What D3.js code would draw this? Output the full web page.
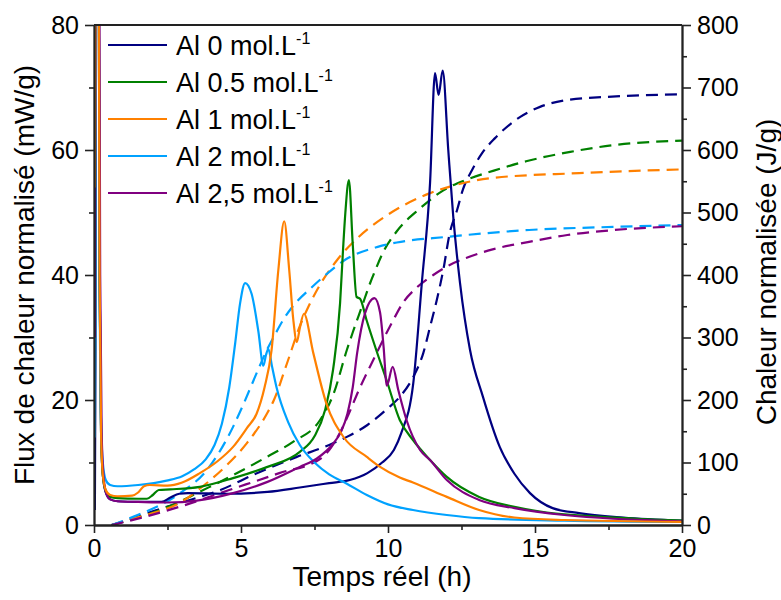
<!DOCTYPE html>
<html>
<head>
<meta charset="utf-8">
<script src="https://cdn.jsdelivr.net/npm/d3@7"></script>
<style>
  html, body { margin: 0; padding: 0; background: #fff; }
  svg { display: block; font-family: "Liberation Sans", Arial, sans-serif; }
</style>
</head>
<body>
<svg id="chart" width="781" height="600"></svg>
<script>
// ---------- data ----------
const seriesNames = ["Al 0 mol.L", "Al 0.5 mol.L", "Al 1 mol.L", "Al 2 mol.L", "Al 2,5 mol.L"];
const seriesColors = ["#000080", "#008000", "#FF8000", "#00A2FF", "#800080"];

const xTicks = [0, 5, 10, 15, 20];
const yLeftTicks = [0, 20, 40, 60, 80];
const yRightTicks = [0, 100, 200, 300, 400, 500, 600, 700, 800];

// heat flow (mW/g) vs time (h)
const fluxAl0 = [[0.03,2.4],[0.05,28],[0.07,120],[0.14,120],[0.19,40],[0.24,15],[0.3,8],[0.4,5.2],[0.55,4.1],[0.8,3.8],[1.5,3.7],[2.3,3.7],[2.6,4.4],[2.9,5.0],[3.2,5.1],[4.5,5.0],[5.9,5.3],[7,6.0],[8,6.7],[8.7,7.2],[9.3,8.3],[9.8,10],[10.2,12],[10.45,14.7],[10.86,22.7],[11.15,38.7],[11.43,54.7],[11.6,72.3],[11.72,68.8],[11.86,72.7],[12.05,60],[12.22,49.3],[12.45,38.7],[12.79,28],[13.23,20.5],[13.8,12.5],[14.3,8.2],[14.83,5.1],[15.6,2.7],[16.5,1.9],[18,1.2],[20,0.7]];
const fluxAl05 = [[0.03,22],[0.05,54],[0.07,120],[0.14,120],[0.19,40],[0.24,15],[0.3,8],[0.4,5.4],[0.55,4.5],[0.8,4.3],[1.5,4.2],[1.8,4.2],[2.0,4.8],[2.2,5.6],[2.6,5.7],[3.6,6.1],[4.73,7.5],[5.9,9.3],[7.0,11.7],[7.5,14.2],[7.86,18.4],[8.13,24.8],[8.37,35.5],[8.47,44],[8.55,50],[8.67,55.2],[8.8,45],[8.93,36.5],[9.05,36.2],[9.27,32.8],[9.6,28],[9.95,23.2],[10.4,16.8],[10.85,13.6],[11.43,10.4],[12,7.7],[13.1,4.5],[14.3,2.9],[15.4,2.0],[17,1.4],[20,0.7]];
const fluxAl1 = [[0.03,54],[0.05,90],[0.07,120],[0.14,120],[0.19,40],[0.24,15],[0.3,8],[0.4,5.6],[0.55,4.8],[0.8,4.6],[1.3,4.7],[1.5,5.2],[1.7,6.2],[1.9,6.4],[2.5,6.3],[3.0,6.8],[3.6,8.3],[4.2,10.2],[4.73,12.5],[5.2,15.5],[5.53,17.8],[5.8,22],[6.04,28],[6.27,40.8],[6.47,48.6],[6.64,40.8],[6.78,32.8],[6.9,29.3],[7.0,31.5],[7.14,33.8],[7.46,27.5],[7.9,19.5],[8.5,14],[9.28,10.9],[9.73,9.3],[10.4,7.6],[10.85,6.8],[12,4.5],[13.1,2.4],[14.3,1.2],[16,0.8],[20,0.5]];
const fluxAl2 = [[0.03,14],[0.05,40],[0.07,120],[0.14,120],[0.19,40],[0.24,16],[0.3,10],[0.4,7.2],[0.55,6.4],[0.8,6.2],[1.5,6.4],[2.47,7.1],[3.0,7.8],[3.4,8.9],[3.8,10.5],[4.1,12.8],[4.35,16.2],[4.6,22],[4.8,29],[4.97,35.5],[5.14,38.7],[5.36,37],[5.59,31],[5.76,25.5],[5.85,27.2],[5.93,28.2],[6.05,25.5],[6.21,22],[6.6,16.5],[7.0,12.8],[7.5,10.0],[8.0,8.1],[8.6,6.6],[9.28,4.8],[10,3.3],[10.85,2.4],[12,1.6],[13.1,1.1],[16,0.7],[20,0.5]];
const fluxAl25 = [[0.03,30],[0.05,80],[0.07,120],[0.16,120],[0.21,40],[0.26,15],[0.32,8],[0.42,5],[0.55,4.1],[0.8,3.8],[1.5,3.7],[2.5,3.6],[3.5,3.9],[4.73,5.1],[5.9,6.9],[7.0,9.3],[7.57,10.6],[8.13,13],[8.4,14.9],[8.62,17.8],[8.8,22],[8.95,27.5],[9.22,33.9],[9.54,36.3],[9.73,34],[9.85,28.5],[9.96,22.3],[10.16,25.3],[10.35,21.6],[10.63,16.8],[11.09,12],[11.43,10.4],[12,7.2],[13.1,4.0],[14.3,2.7],[16,1.6],[20,0.6]];

// cumulative heat (J/g) vs time (h)
const heatAl0 = [[0.6,0],[1.3,10],[2,22],[2.9,35],[4.3,56],[5.5,82],[6.9,109],[8,128],[8.6,141],[9.3,160],[10,187],[10.4,205],[10.86,237],[11.2,275],[11.43,317],[11.66,360],[11.88,408],[12.1,467],[12.35,504],[12.55,537],[12.86,568],[13.2,595],[13.64,619],[14.5,653],[15.17,669],[16.1,680],[17.45,685],[20,689]];
const heatAl05 = [[0.6,0],[1.3,9],[2.24,24],[2.9,37],[3.5,51],[4.62,77],[5.88,109],[6.77,133],[7.69,168],[8.15,210],[8.6,280],[8.8,308],[9.1,348],[9.4,388],[9.52,402],[9.83,436],[10.3,470],[11.1,507],[11.87,535],[12.7,553],[13.6,567],[14.7,582],[16.2,597],[17.7,608],[20,615]];
const heatAl1 = [[0.6,0],[1.3,10],[2,19],[2.9,35],[3.7,62],[4.5,95],[5.2,131],[5.88,178],[6.12,200],[6.56,258],[7.0,318],[7.3,350],[7.72,387],[8.27,424],[8.98,460],[9.95,495],[11.43,531],[12.3,544],[13.5,555],[16.5,563],[20,569]];
const heatAl2 = [[0.6,0],[1.33,13],[2.9,50],[3.84,88],[4.73,157],[5.07,192],[5.55,245],[5.88,280],[6.16,305],[6.5,333],[6.73,348],[7.4,380],[7.9,401],[8.53,424],[9.65,445],[10.3,452],[12,461],[14.8,472],[17.7,477],[20,480]];
const heatAl25 = [[0.6,0],[1.56,11],[2.9,29],[4.6,56],[6.3,83],[7.7,106],[8.0,120],[8.37,148],[8.64,175],[9.0,215],[9.56,270],[9.84,297],[10.18,328],[10.5,355],[10.98,380],[11.54,400],[12.1,416],[12.7,428],[13.4,439],[14.8,453],[16.1,464],[17.7,472],[20,478]];

const fluxSeries = [fluxAl0, fluxAl05, fluxAl1, fluxAl2, fluxAl25];
const heatSeries = [heatAl0, heatAl05, heatAl1, heatAl2, heatAl25];

// ---------- layout ----------
const svg = d3.select("#chart");
const L = 94, R = 682, T = 25, B = 525;

const x = d3.scaleLinear().domain([0, 20]).range([L, R]);
const yL = d3.scaleLinear().domain([0, 80]).range([B, T]);
const yR = d3.scaleLinear().domain([0, 800]).range([B, T]);

svg.append("defs").append("clipPath").attr("id", "plotclip")
  .append("rect").attr("x", L).attr("y", T).attr("width", R - L).attr("height", B - T);

const plot = svg.append("g").attr("clip-path", "url(#plotclip)");

const lineL = d3.line().x(d => x(d[0])).y(d => yL(d[1])).curve(d3.curveMonotoneX);
const lineR = d3.line().x(d => x(d[0])).y(d => yR(d[1])).curve(d3.curveMonotoneX);

heatSeries.forEach((s, i) => {
  plot.append("path").attr("d", lineR(s)).attr("fill", "none")
    .attr("stroke", seriesColors[i]).attr("stroke-width", 2.2)
    .attr("stroke-dasharray", "12,7");
});
[0, 1, 3, 4, 2].forEach(i => {
  plot.append("path").attr("d", lineL(fluxSeries[i])).attr("fill", "none")
    .attr("stroke", seriesColors[i]).attr("stroke-width", 2.2)
    .attr("stroke-linejoin", "round");
});

// ---------- axes ----------
const fmt = d3.format("d");
const tickStyle = g => {
  g.selectAll("path.domain").attr("stroke", "#222").attr("stroke-width", 1.8);
  g.selectAll(".tick line").attr("stroke", "#222").attr("stroke-width", 1.6);
  g.selectAll(".tick text").attr("font-size", 25).attr("fill", "#000")
    .attr("font-family", "'Liberation Sans', Arial, sans-serif");
};

const minorX = d3.range(2.5, 20, 5);
const minorYL = d3.range(10, 80, 20);
const minorYR = d3.range(50, 800, 100);

svg.append("g").attr("transform", `translate(0,${B})`)
  .call(d3.axisBottom(x).tickValues(xTicks).tickFormat(fmt).tickSize(8).tickSizeOuter(0).tickPadding(6))
  .call(tickStyle);
svg.append("g").attr("transform", `translate(0,${B})`)
  .call(d3.axisBottom(x).tickValues(minorX).tickFormat("").tickSize(5).tickSizeOuter(0))
  .call(tickStyle);

svg.append("g").attr("transform", `translate(${L},0)`)
  .call(d3.axisLeft(yL).tickValues(yLeftTicks).tickFormat(fmt).tickSize(9).tickSizeOuter(0).tickPadding(6))
  .call(tickStyle);
svg.append("g").attr("transform", `translate(${L},0)`)
  .call(d3.axisLeft(yL).tickValues(minorYL).tickFormat("").tickSize(5).tickSizeOuter(0))
  .call(tickStyle);

svg.append("g").attr("transform", `translate(${R},0)`)
  .call(d3.axisRight(yR).tickValues(yRightTicks).tickFormat(fmt).tickSize(9).tickSizeOuter(0).tickPadding(6))
  .call(tickStyle);
svg.append("g").attr("transform", `translate(${R},0)`)
  .call(d3.axisRight(yR).tickValues(minorYR).tickFormat("").tickSize(5).tickSizeOuter(0))
  .call(tickStyle);

// top frame
svg.append("line").attr("x1", L).attr("x2", R).attr("y1", T).attr("y2", T)
  .attr("stroke", "#222").attr("stroke-width", 1.8);

// ---------- titles ----------
svg.append("text").attr("x", (L + R) / 2 - 6).attr("y", 586).attr("text-anchor", "middle")
  .attr("font-size", 28).attr("fill", "#000").text("Temps réel (h)");
svg.append("text").attr("transform", `translate(34,${(T + B) / 2}) rotate(-90)`)
  .attr("text-anchor", "middle").attr("font-size", 28).attr("fill", "#000")
  .text("Flux de chaleur normalisé (mW/g)");
svg.append("text").attr("transform", `translate(776,${(T + B) / 2 - 3}) rotate(-90)`)
  .attr("text-anchor", "middle").attr("font-size", 28).attr("fill", "#000")
  .text("Chaleur normalisée (J/g)");

// ---------- legend ----------
const leg = svg.append("g");
seriesNames.forEach((n, i) => {
  const yb = 55 + i * 37;
  leg.append("line").attr("x1", 108).attr("x2", 167).attr("y1", yb - 10).attr("y2", yb - 10)
    .attr("stroke", seriesColors[i]).attr("stroke-width", 2.2);
  const t = leg.append("text").attr("x", 176).attr("y", yb).attr("font-size", 27).attr("fill", "#000");
  t.append("tspan").text(n);
  t.append("tspan").attr("font-size", 16).attr("dy", -11).text("-1");
});
</script>
</body>
</html>
